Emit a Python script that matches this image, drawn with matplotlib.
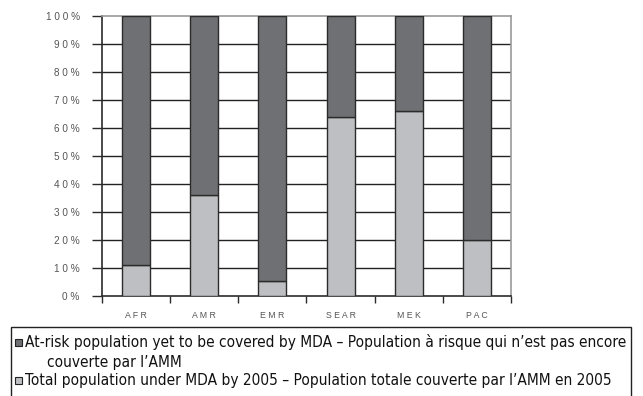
import matplotlib.pyplot as plt
from matplotlib.patches import Rectangle
import numpy as np

regions = ["AFR", "AMR", "EMR", "SEAR", "MEK", "PAC"]
covered = [11, 36, 5.5, 64, 66, 20]
at_risk = [100 - c for c in covered]
ytick_vals = [0, 10, 20, 30, 40, 50, 60, 70, 80, 90, 100]
legend_labels = [
    "At-risk population yet to be covered by MDA \u2013 Population \u00e0 risque qui n\u2019est pas encore",
    "couverte par l\u2019AMM",
    "Total population under MDA by 2005 \u2013 Population totale couverte par l\u2019AMM en 2005",
]

dark = "#6f7073"
light = "#bebfc2"
edge = "#2b2b2b"

fig = plt.figure(figsize=(6.43, 3.96), dpi=100)
ax = fig.add_axes([0.1586, 0.2525, 0.636, 0.7071])

x = np.arange(len(regions))
ax.bar(x, covered, width=0.41, color=light, edgecolor=edge, linewidth=1.0, zorder=3)
ax.bar(x, at_risk, bottom=covered, width=0.41, color=dark, edgecolor=edge, linewidth=1.0, zorder=3)

ax.set_xlim(-0.5, len(regions) - 0.5)
ax.set_ylim(0, 100)

ax.set_yticks(ytick_vals)
ax.set_yticklabels([" ".join(str(v)) + " %" for v in ytick_vals], fontsize=7.2,
                   color="#555555", family="Liberation Sans")
ax.tick_params(axis="y", length=7, width=1, color=edge, pad=9)

ax.set_xticks(x)
ax.set_xticklabels([" ".join(r) for r in regions], fontsize=6.3, color="#555555",
                   family="Liberation Sans")
ax.tick_params(axis="x", which="major", length=0, pad=11)
ax.set_xticks(np.arange(-0.5, len(regions), 1.0), minor=True)
ax.tick_params(axis="x", which="minor", length=5, width=1, color=edge)

for v in ytick_vals[1:-1]:
    ax.axhline(v, color="#222222", linewidth=1.0, zorder=1)

ax.spines["left"].set_color(edge)
ax.spines["bottom"].set_color(edge)
ax.spines["top"].set_color("#9a9a9a")
ax.spines["right"].set_color("#9a9a9a")
for s in ax.spines.values():
    s.set_linewidth(1.2)

# legend box, open at the bottom edge of the figure
fig.patches.append(Rectangle((11 / 643, -0.05), 620 / 643, (396 - 327) / 396 + 0.05,
                             transform=fig.transFigure, fill=False,
                             edgecolor="#222222", linewidth=1.0))
ys = [1 - 342 / 396, 1 - 362 / 396, 1 - 380 / 396]
fig.patches.append(Rectangle((15 / 643, ys[0] - 3.5 / 396), 7 / 643, 7 / 396,
                             transform=fig.transFigure, facecolor=dark,
                             edgecolor="#222222", linewidth=0.8))
fig.patches.append(Rectangle((15 / 643, ys[2] - 3.5 / 396), 7 / 643, 7 / 396,
                             transform=fig.transFigure, facecolor=light,
                             edgecolor="#222222", linewidth=0.8))

txt_kw = dict(family="DejaVu Sans", stretch="condensed", va="center", color="#111111")
t0 = fig.text(25 / 643, ys[0], legend_labels[0], fontsize=11.5, **txt_kw)
t1 = fig.text(47 / 643, ys[1], legend_labels[1], fontsize=11.5, **txt_kw)
t2 = fig.text(25 / 643, ys[2], legend_labels[2], fontsize=11.5, **txt_kw)

# shrink the legend text until the first line fits the box like the original
fig.canvas.draw()
r = fig.canvas.get_renderer()
w = t0.get_window_extent(r).width
size = 11.5 * min(1.0, 602 / w)
for t in (t0, t1, t2):
    t.set_fontsize(size)

fig.savefig("out.png", dpi=100)
